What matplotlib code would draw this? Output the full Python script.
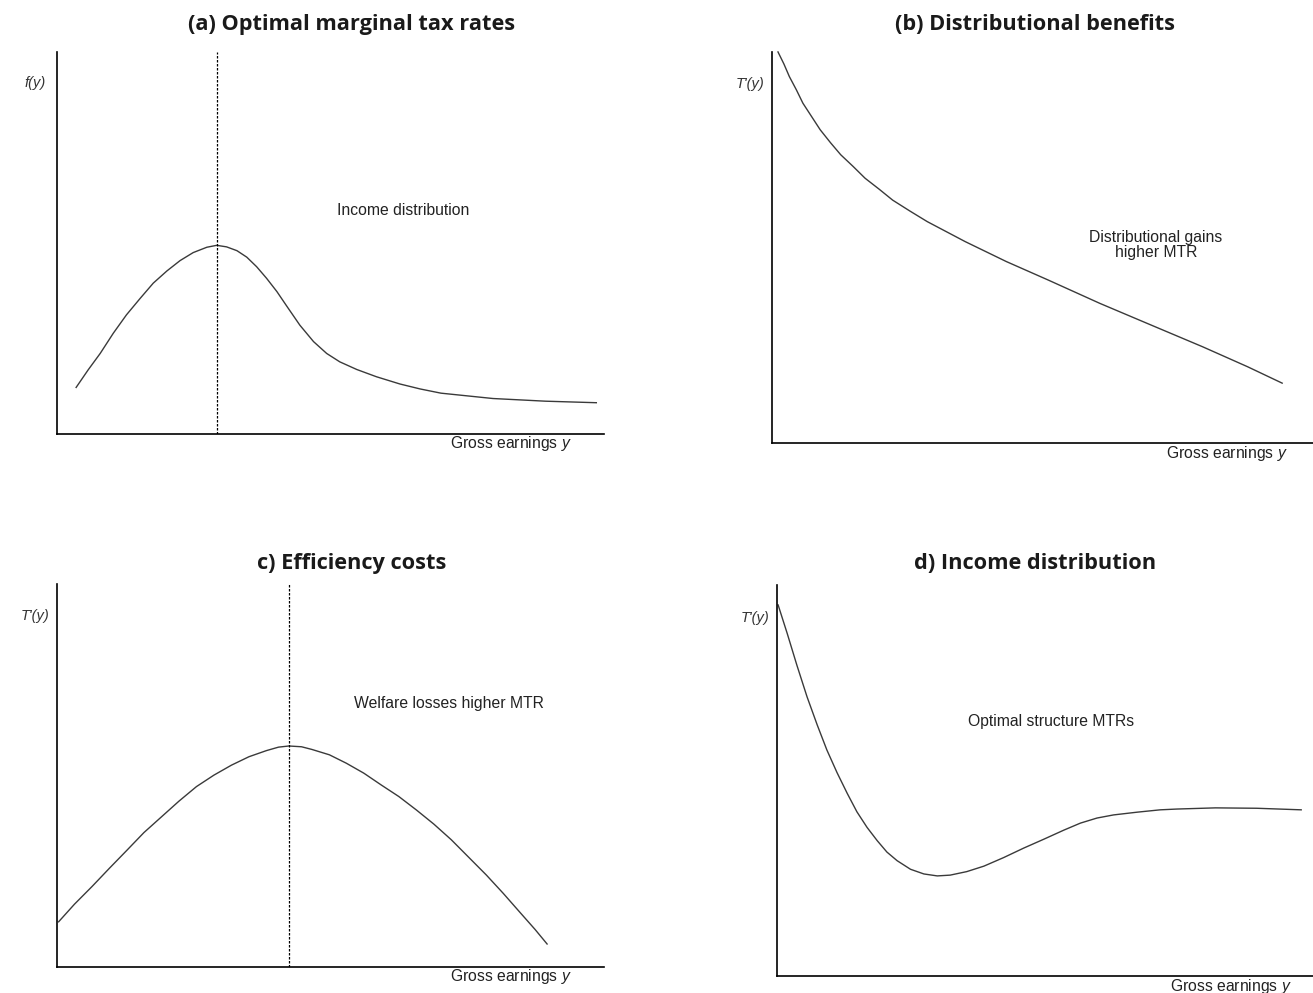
import matplotlib.pyplot as plt

plt.rcParams['font.family'] = 'Liberation Sans'
plt.rcParams['mathtext.fontset'] = 'custom'
plt.rcParams['mathtext.it'] = 'Liberation Sans:italic'
plt.rcParams['mathtext.rm'] = 'Liberation Sans'

# (a) income distribution f(y)
a_x = [3.5, 5.7, 7.9, 10.3, 12.7, 15.2, 17.6, 20.1, 22.5, 24.9, 27.4, 29.2,
       31.0, 32.9, 34.7, 36.5, 38.3, 40.2, 42.0, 44.4, 46.9, 49.3, 51.7, 54.8,
       58.4, 62.7, 66.4, 70.2, 79.7, 89.3, 98.6]
a_y = [12.2, 16.8, 21.1, 26.4, 31.2, 35.5, 39.5, 42.7, 45.4, 47.5, 48.9, 49.4,
       49.0, 48.0, 46.3, 43.8, 40.8, 37.3, 33.5, 28.5, 24.2, 21.1, 18.9, 16.9,
       15.0, 13.1, 11.8, 10.7, 9.3, 8.6, 8.2]
a_mode = 29.2

# (b) distributional benefits
b_x = [1.1, 2.2, 3.2, 4.5, 5.7, 7.3, 8.9, 10.8, 12.7, 15.0, 17.2, 19.8, 22.3,
       25.5, 28.7, 35.7, 43.3, 51.0, 60.6, 70.0, 79.6, 87.9, 94.3]
b_y = [100.0, 96.9, 93.7, 90.3, 86.9, 83.5, 80.1, 76.8, 73.7, 70.7, 67.7, 64.9,
       62.1, 59.3, 56.6, 51.5, 46.4, 41.7, 35.7, 30.2, 24.6, 19.5, 15.3]

# (c) efficiency costs
c_x = [0.3, 3.2, 6.4, 9.6, 12.8, 15.9, 19.1, 22.3, 25.5, 28.7, 31.9, 35.1,
       38.3, 40.5, 42.4, 44.7, 46.6, 49.8, 52.9, 56.1, 59.3, 62.5, 65.7, 68.9,
       72.1, 75.3, 78.5, 81.6, 84.8, 87.4, 89.6]
c_y = [11.8, 16.4, 21.0, 25.8, 30.5, 35.1, 39.2, 43.3, 47.1, 50.1, 52.7, 54.9,
       56.5, 57.4, 57.7, 57.5, 56.8, 55.4, 53.2, 50.6, 47.5, 44.5, 41.0, 37.3,
       33.2, 28.6, 24.0, 19.2, 14.0, 9.8, 6.0]
c_mode = 42.4

# (d) optimal structure of marginal tax rates
d_x = [0.2, 1.9, 3.7, 5.6, 7.5, 9.3, 11.2, 13.1, 14.9, 16.8, 18.7, 20.5, 22.4,
       24.9, 27.4, 29.9, 32.3, 35.4, 38.6, 42.3, 46.0, 49.8, 53.5, 56.6, 59.7,
       62.8, 67.2, 71.5, 74.6, 81.8, 89.5, 97.8]
d_y = [94.9, 87.6, 79.5, 71.4, 64.2, 57.8, 52.0, 46.7, 42.0, 38.0, 34.6, 31.7,
       29.5, 27.3, 26.1, 25.6, 25.8, 26.7, 28.1, 30.3, 32.7, 35.0, 37.3, 39.1,
       40.4, 41.2, 41.9, 42.5, 42.7, 43.0, 42.9, 42.5]

titles = ['(a) Optimal marginal tax rates', '(b) Distributional benefits',
          'c) Efficiency costs', 'd) Income distribution']
ylabels = ['f(y)', "T'(y)", "T'(y)", "T'(y)"]
notes = ['Income distribution', 'Distributional gains\nhigher MTR',
         'Welfare losses higher MTR', 'Optimal structure MTRs']

fig = plt.figure(figsize=(13.13, 9.93), dpi=100)

boxes = [[0.0434, 0.5629, 0.4166, 0.3847],
         [0.5880, 0.5539, 0.4120, 0.3938],
         [0.0434, 0.0262, 0.4166, 0.3857],
         [0.5918, 0.0171, 0.4082, 0.3938]]
curves = [(a_x, a_y), (b_x, b_y), (c_x, c_y), (d_x, d_y)]
note_pos = [(63.3, 58.6), (71.0, 50.6), (71.7, 68.7), (51.1, 65.2)]
ylab_pos = [(-0.04, 0.919), (-0.041, 0.918), (-0.04, 0.916), (-0.041, 0.916)]
xlab_pos = [(0.941, -0.026), (0.954, -0.028), (0.941, -0.026), (0.961, -0.028)]

axes = []
for i in range(4):
    ax = fig.add_axes(boxes[i])
    ax.set_xlim(0, 100)
    ax.set_ylim(0, 100)
    for side in ['top', 'right']:
        ax.spines[side].set_visible(False)
    ax.spines['left'].set_linewidth(1.2)
    ax.spines['bottom'].set_linewidth(1.2)
    ax.set_xticks([])
    ax.set_yticks([])
    ax.patch.set_alpha(0)

    x, y = curves[i]
    ax.plot(x, y, color='#3a3a3a', lw=1.0, clip_on=False,
            solid_joinstyle='round')

    nx, ny = note_pos[i]
    ax.text(nx, ny, notes[i], ha='center', va='center', fontsize=11.3,
            color='#222222', linespacing=1.0)
    lx, ly = ylab_pos[i]
    ax.text(lx, ly, ylabels[i], transform=ax.transAxes, ha='center',
            va='center', fontsize=10.5, style='italic', color='#333333')
    gx, gy = xlab_pos[i]
    ax.text(gx, gy, 'Gross earnings $\\it{y}$', transform=ax.transAxes,
            ha='right', va='center', fontsize=11.3, color='#222222')
    axes.append(ax)

# dashed line at the mode of the distribution
axes[0].axvline(a_mode, color='black', lw=0.9, ls=(0, (2, 1.2)))
axes[2].axvline(c_mode, color='black', lw=0.9, ls=(0, (2, 1.2)))

title_pos = [(352 / 1313, 1 - 24.5 / 993), (1035 / 1313, 1 - 24 / 993),
             (352 / 1313, 1 - 563.5 / 993), (1035 / 1313, 1 - 563.5 / 993)]
for t, (tx, ty) in zip(titles, title_pos):
    fig.text(tx, ty, t, ha='center', va='center', fontsize=15.7,
             fontweight='bold', family='Open Sans', color='#1a1a1a')

fig.savefig('out.png', dpi=100)
